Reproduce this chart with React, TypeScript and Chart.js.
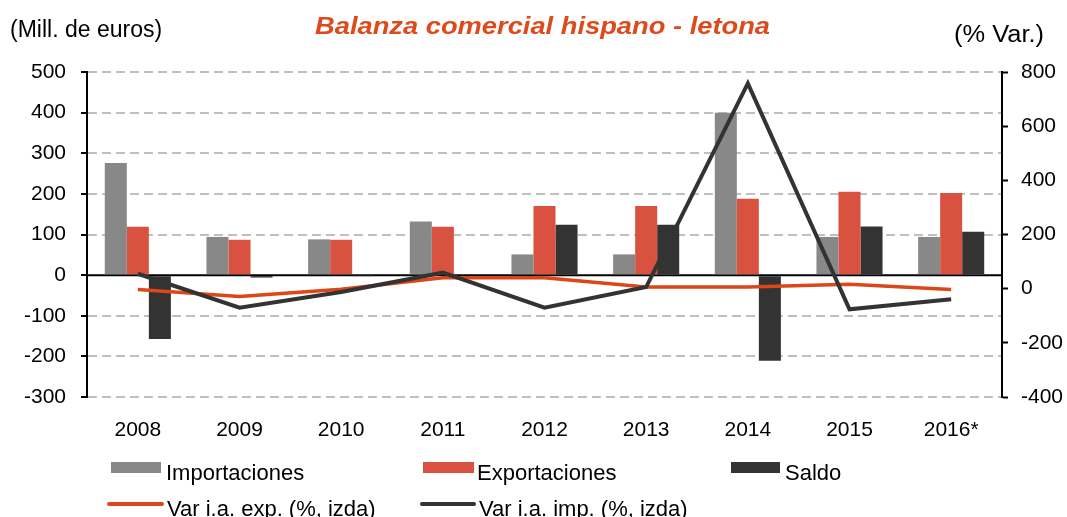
import React, { useEffect, useRef } from 'react';
import { Chart, registerables } from 'chart.js';

Chart.register(...registerables);

const FONT = '"Liberation Sans", Arial, Helvetica, sans-serif';

const categories = ['2008', '2009', '2010', '2011', '2012', '2013', '2014', '2015', '2016*'];
const importaciones = [276, 94, 88, 132, 51, 51, 400, 94, 94];
const exportaciones = [119, 87, 87, 119, 170, 170, 188, 205, 202];
const saldo = [-157, -6, -1, -2, 124, 124, -211, 120, 107];
const varExp = [-3, -29, -2, 40, 40, 6, 6, 16, -3];
const varImp = [55, -70, -12, 59, -70, 6, 758, -76, -39];

const titleText = 'Balanza comercial hispano - letona';
const leftUnit = '(Mill. de euros)';
const rightUnit = '(% Var.)';

const COLORS = {
  imp: '#888888',
  exp: '#D9513F',
  saldo: '#333333',
  lineExp: '#DC4719',
  lineImp: '#333333',
  title: '#DF4A1B',
  grid: '#BFBFBF',
};

function drawText(
  ctx: CanvasRenderingContext2D,
  text: string,
  x: number,
  y: number,
  font: string,
  color: string,
  align: CanvasTextAlign,
  targetWidth?: number
) {
  ctx.save();
  ctx.font = font;
  ctx.fillStyle = color;
  ctx.textBaseline = 'alphabetic';
  ctx.textAlign = align;
  if (targetWidth) {
    const w = ctx.measureText(text).width;
    const s = targetWidth / w;
    ctx.translate(x, y);
    ctx.scale(s, 1);
    ctx.fillText(text, 0, 0);
  } else {
    ctx.fillText(text, x, y);
  }
  ctx.restore();
}

const overlayPlugin = {
  id: 'overlay',
  beforeDatasetsDraw(chart: any) {
    const { ctx, chartArea } = chart;
    const y0 = chart.scales.y.getPixelForValue(0);
    ctx.save();
    ctx.strokeStyle = '#000';
    ctx.lineWidth = 2;
    ctx.beginPath();
    ctx.moveTo(chartArea.left, y0);
    ctx.lineTo(chartArea.right, y0);
    ctx.stroke();
    ctx.restore();
  },
  afterDraw(chart: any) {
    const { ctx } = chart;
    drawText(ctx, titleText, 542.5, 34, `italic bold 23px ${FONT}`, COLORS.title, 'center', 455);
    drawText(ctx, leftUnit, 10, 37, `23px ${FONT}`, '#000', 'left');
    drawText(ctx, rightUnit, 954, 42, `23px ${FONT}`, '#000', 'left', 90);

    const ds = chart.data.datasets;
    const legendFont = `22px ${FONT}`;
    const barItems = [
      { i: 0, x: 111, w: 50, tx: 166 },
      { i: 1, x: 423, w: 51, tx: 477 },
      { i: 2, x: 731, w: 49, tx: 785 },
    ];
    ctx.save();
    barItems.forEach((it) => {
      ctx.fillStyle = ds[it.i].backgroundColor;
      ctx.fillRect(it.x, 462, it.w, 11);
      drawText(ctx, ds[it.i].label, it.tx, 480, legendFont, '#000', 'left');
    });
    const lineItems = [
      { i: 3, x: 109, w: 53, tx: 167 },
      { i: 4, x: 422, w: 52, tx: 479 },
    ];
    lineItems.forEach((it) => {
      ctx.strokeStyle = ds[it.i].borderColor;
      ctx.lineWidth = 4;
      ctx.lineCap = 'round';
      ctx.beginPath();
      ctx.moveTo(it.x, 504);
      ctx.lineTo(it.x + it.w, 504);
      ctx.stroke();
      drawText(ctx, ds[it.i].label, it.tx, 516, legendFont, '#000', 'left');
    });
    ctx.restore();
  },
};

export default function App() {
  const canvasRef = useRef<HTMLCanvasElement | null>(null);

  useEffect(() => {
    const canvas = canvasRef.current;
    if (!canvas) return;
    const chart = new Chart(canvas, {
      type: 'bar',
      data: {
        labels: categories,
        datasets: [
          {
            type: 'bar',
            label: 'Importaciones',
            data: importaciones,
            backgroundColor: COLORS.imp,
            yAxisID: 'y',
            categoryPercentage: 0.65,
            barPercentage: 1,
            order: 2,
          },
          {
            type: 'bar',
            label: 'Exportaciones',
            data: exportaciones,
            backgroundColor: COLORS.exp,
            yAxisID: 'y',
            categoryPercentage: 0.65,
            barPercentage: 1,
            order: 2,
          },
          {
            type: 'bar',
            label: 'Saldo',
            data: saldo,
            backgroundColor: COLORS.saldo,
            yAxisID: 'y',
            categoryPercentage: 0.65,
            barPercentage: 1,
            order: 2,
          },
          {
            type: 'line',
            label: 'Var i.a. exp. (%, izda)',
            data: varExp,
            borderColor: COLORS.lineExp,
            backgroundColor: COLORS.lineExp,
            borderWidth: 3.5,
            pointRadius: 0,
            tension: 0,
            yAxisID: 'y1',
            order: 1,
          },
          {
            type: 'line',
            label: 'Var i.a. imp. (%, izda)',
            data: varImp,
            borderColor: COLORS.lineImp,
            backgroundColor: COLORS.lineImp,
            borderWidth: 4,
            pointRadius: 0,
            tension: 0,
            yAxisID: 'y1',
            order: 0,
          },
        ] as any,
      },
      options: {
        responsive: false,
        animation: false,
        events: [],
        layout: { padding: { top: 72, left: 0, right: 0, bottom: 0 } },
        plugins: {
          legend: { display: false },
          title: { display: false },
          tooltip: { enabled: false },
        },
        scales: {
          x: {
            grid: { display: false },
            border: { display: false },
            ticks: { color: '#000', font: { family: FONT, size: 21 }, padding: 13, maxRotation: 0 },
            afterFit: (s: any) => {
              s.height = 120;
            },
          },
          y: {
            position: 'left',
            min: -300,
            max: 500,
            ticks: { stepSize: 100, color: '#000', font: { family: FONT, size: 21 }, padding: 15 },
            grid: {
              color: (c: any) => (c.tick && c.tick.value === 0 ? 'rgba(0,0,0,0)' : COLORS.grid),
              lineWidth: 2,
              tickColor: '#000',
              tickLength: 6,
              tickWidth: 2,
            },
            border: { color: '#000', width: 2, dash: [9, 5] },
            afterFit: (s: any) => {
              s.width = 87;
            },
          },
          y1: {
            position: 'right',
            min: -400,
            max: 800,
            ticks: { stepSize: 200, color: '#000', font: { family: FONT, size: 21 }, padding: 13 },
            grid: {
              drawOnChartArea: false,
              tickColor: '#000',
              tickLength: 6,
              tickWidth: 2,
            },
            border: { color: '#000', width: 2 },
            afterFit: (s: any) => {
              s.width = 65;
            },
          },
        },
      } as any,
      plugins: [overlayPlugin],
    });
    return () => chart.destroy();
  }, []);

  return (
    <div style={{ position: 'fixed', left: 0, top: 0, width: 1067, height: 517, background: '#fff' }}>
      <canvas ref={canvasRef} width={1067} height={517} style={{ display: 'block' }} />
    </div>
  );
}
